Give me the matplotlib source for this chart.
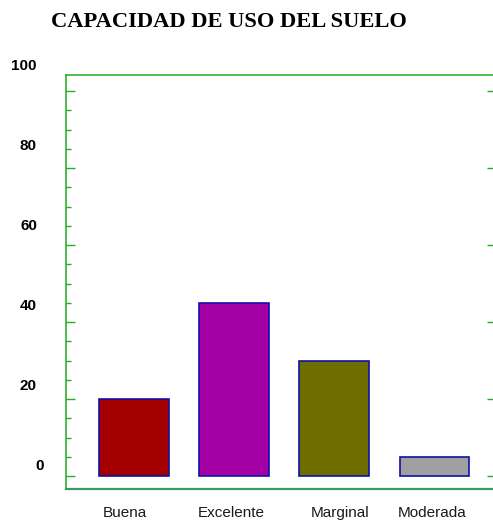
import matplotlib
matplotlib.use("Agg")
import matplotlib.pyplot as plt
from matplotlib.transforms import blended_transform_factory, ScaledTranslation
from matplotlib.ticker import MultipleLocator

# ---- data ----
categories = ["Buena", "Excelente", "Marginal", "Moderada"]
values = [20, 45, 30, 5]
bar_colors = ["#a50000", "#a500a5", "#6e6e00", "#a0a0a0"]
ytick_values = [0, 20, 40, 60, 80, 100]
ytick_labels = ["0", "20", "40", "60", "80", "100"]
title = "CAPACIDAD DE USO DEL SUELO"

W, H = 493, 523
fig = plt.figure(figsize=(W / 100, H / 100), dpi=100)

# main axes (pixel box: x 66..496, y 75..489 from top)
ax = fig.add_axes([66 / W, (H - 489) / H, (496 - 66) / W, (489 - 75) / H])
x = list(range(len(categories)))
ax.bar(x, values, width=0.695, color=bar_colors, edgecolor="#1010a8",
       linewidth=1.2, zorder=3)
ax.set_xlim(-0.676, 3.615)
ax.set_ylim(-3.38, 104.2)

ax.set_xticks(x)
ax.set_xticklabels([])
ax.tick_params(axis="x", length=0)

# category labels (slightly off-centre under the bars, as in the original)
label_shift_px = [-9, -3, 6, -2]
xt = blended_transform_factory(ax.transData, ax.transAxes)
for i, (cat, dx) in enumerate(zip(categories, label_shift_px)):
    ax.text(i, (489 - 517) / (489 - 75), cat,
            transform=xt + ScaledTranslation(dx / 100, 0, fig.dpi_scale_trans),
            ha="center", va="baseline", fontfamily="Liberation Sans",
            fontsize=11, color="#1a1a1a", clip_on=False)

ax.set_yticks(ytick_values)
ax.set_yticklabels([])
ax.yaxis.set_minor_locator(MultipleLocator(5))
ax.tick_params(axis="y", which="major", direction="in", length=6.7, width=1.0,
               color="#22b022", left=True, right=True)
ax.tick_params(axis="y", which="minor", direction="in", length=3.6, width=1.0,
               color="#22b022", left=True, right=False)

ax.spines["left"].set_color("#1aaa1a")
ax.spines["left"].set_linewidth(1.1)
ax.spines["top"].set_color("#22aa22")
ax.spines["top"].set_linewidth(1.1)
ax.spines["bottom"].set_color("#3a9a60")
ax.spines["bottom"].set_linewidth(1.6)
ax.spines["right"].set_visible(False)

# y value labels (drawn on their own slightly different scale, as in the original)
lab_ax = fig.add_axes([66 / W, (H - 489) / H, (496 - 66) / W, (489 - 40) / H])
lab_ax.set_ylim((466 - 489) / 4, (466 - 40) / 4)
lab_ax.axis("off")
trans = blended_transform_factory(fig.transFigure, lab_ax.transData)
for v, lab in zip(ytick_values, ytick_labels):
    xr = 43.5 if lab == "0" else 37
    lab_ax.text(xr / W, v, lab, transform=trans, ha="right", va="center",
                fontfamily="Liberation Sans", fontweight="bold", fontsize=11,
                color="black")

fig.text(228.5 / W, (H - 22) / H, title, ha="center", va="center",
         fontfamily="Liberation Serif", fontweight="bold", fontsize=16.2,
         color="black")

fig.savefig("out.png", dpi=100)
